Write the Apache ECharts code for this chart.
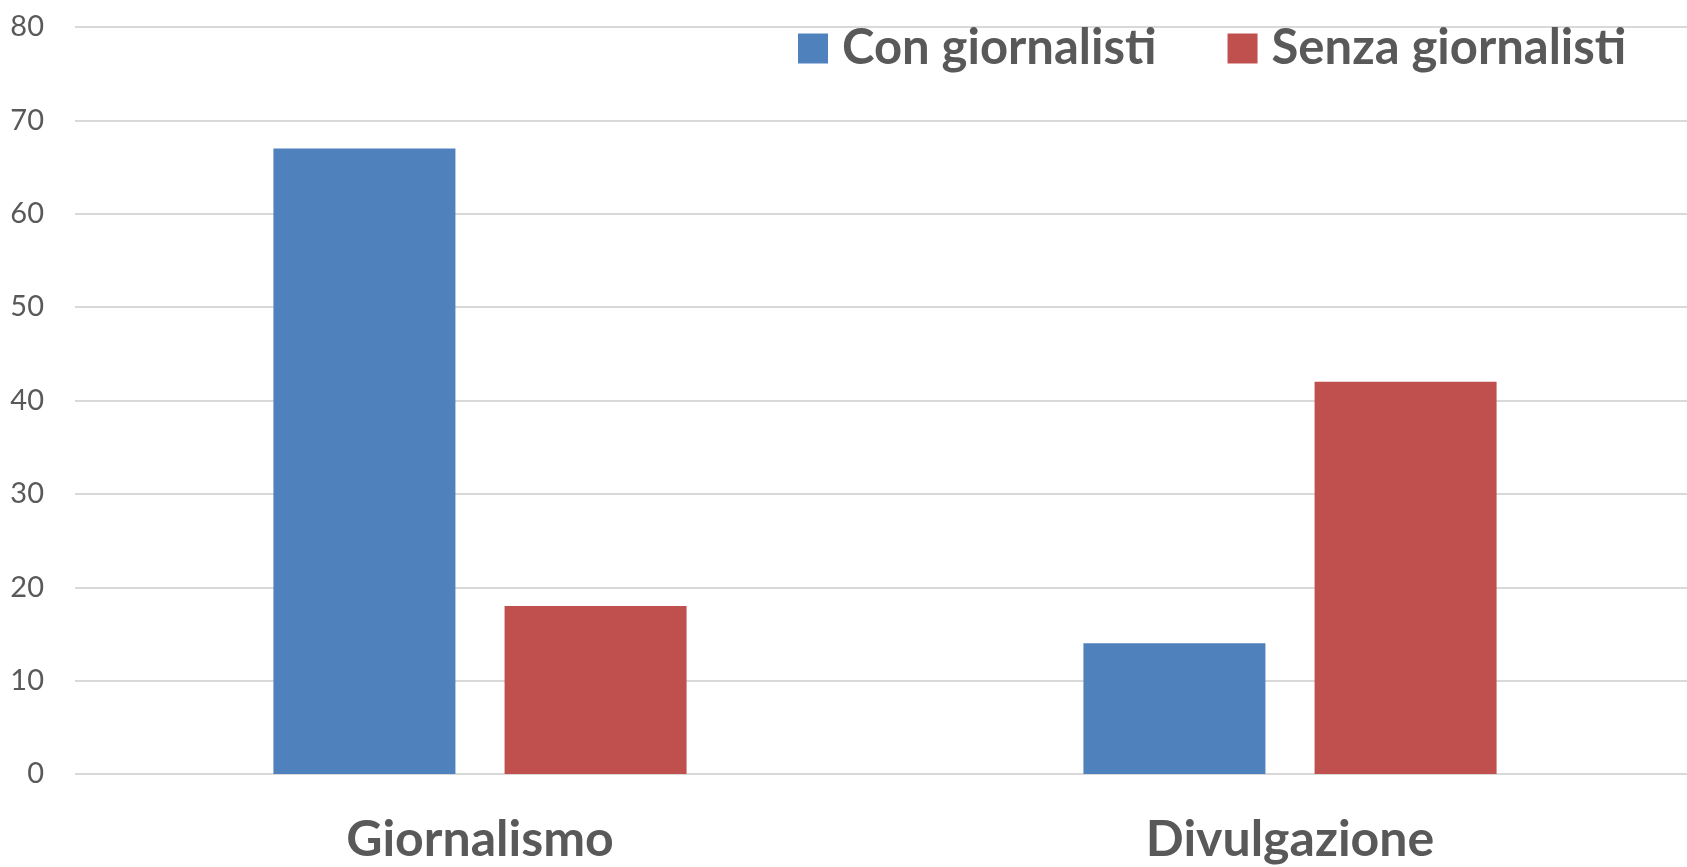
<!DOCTYPE html>
<html>
<head>
<meta charset="utf-8">
<script src="https://cdn.jsdelivr.net/npm/echarts@6/dist/echarts.min.js"></script>
<style>
html,body{margin:0;padding:0;background:#fff;overflow:hidden;width:1687px;height:867px;}
#c{width:1695px;height:867px;}
</style>
</head>
<body>
<div id="c"></div>
<script>
var categories = ['Giornalismo', 'Divulgazione'];
var seriesNames = ['Con giornalisti', 'Senza giornalisti'];
var conGiornalisti = [67, 14];
var senzaGiornalisti = [18, 42];
var yTicks = [0, 10, 20, 30, 40, 50, 60, 70, 80];

var chart = echarts.init(document.getElementById('c'));
var txt = '#595959';
chart.setOption({
  animation: false,
  backgroundColor: '#ffffff',
  textStyle: { fontFamily: 'Lato' },
  legend: {
    left: 793,
    top: 19,
    itemWidth: 30,
    itemHeight: 30,
    itemGap: 71,
    icon: 'rect',
    data: seriesNames,
    textStyle: { fontFamily: 'Lato', fontWeight: 'bold', fontSize: 49, color: txt, padding: [0, 0, 0, 9] }
  },
  grid: { left: 75, right: 0, top: 27, bottom: 93, containLabel: false },
  xAxis: {
    type: 'category',
    data: categories,
    axisLine: { show: false },
    axisTick: { show: false },
    axisLabel: { fontFamily: 'Lato', fontWeight: 'bold', fontSize: 50, color: txt, margin: 41 }
  },
  yAxis: {
    type: 'value',
    min: yTicks[0],
    max: yTicks[yTicks.length - 1],
    interval: yTicks[1] - yTicks[0],
    axisLine: { show: false },
    axisTick: { show: false },
    axisLabel: { fontFamily: 'Lato', fontSize: 29, color: txt, margin: 31 },
    splitLine: { lineStyle: { color: '#d9d9d9', width: 2 } }
  },
  series: [
    { name: seriesNames[0], type: 'bar', data: conGiornalisti, barWidth: '22.47%', barGap: '27%', itemStyle: { color: '#4f81bd' } },
    { name: seriesNames[1], type: 'bar', data: senzaGiornalisti, barWidth: '22.47%', barGap: '27%', itemStyle: { color: '#c0504d' } }
  ]
});
</script>
</body>
</html>
